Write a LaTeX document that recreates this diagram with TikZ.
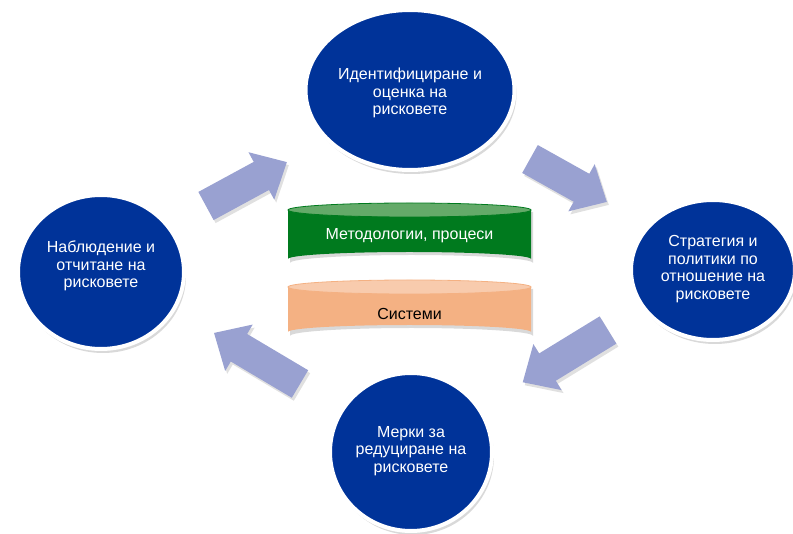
\documentclass[tikz,border=0pt]{standalone}
\usepackage{fontspec}
\setmainfont{Liberation Sans}
\usetikzlibrary{shapes.geometric,shadows}
\definecolor{navy}{RGB}{0,51,153}
\definecolor{arrowblue}{RGB}{153,161,209}
\definecolor{cylgreen}{RGB}{0,122,30}
\definecolor{cyltopgreen}{RGB}{100,170,105}
\definecolor{cylorange}{RGB}{244,177,131}
\definecolor{cyltoporange}{RGB}{248,203,173}
\tikzset{
  circ/.style={ellipse, fill=navy, draw=white, line width=4pt, inner sep=0pt,
    drop shadow={shadow xshift=2pt, shadow yshift=-4pt, opacity=0.25, fill=black!60}},
  ctext/.style={text=white, align=center, font=\fontsize{16}{17.5}\selectfont, inner sep=0pt},
  cyltext/.style={align=center, font=\fontsize{16}{17.5}\selectfont, inner sep=0pt},
  barrow/.style={fill=arrowblue,
    drop shadow={shadow xshift=2pt, shadow yshift=-3pt, opacity=0.2, fill=black!60}},
}
\newcommand{\blockarrow}[4]{%
  \begin{scope}[shift={(#1,#2)}, rotate=#3]
    \path[barrow] (0,-16) -- ({#4-29},-16) -- ({#4-29},-27) -- (#4,0)
      -- ({#4-29},27) -- ({#4-29},16) -- (0,16) -- cycle;
  \end{scope}}
\begin{document}
\begin{tikzpicture}[x=1pt,y=-1pt]
\useasboundingbox (0,0) rectangle (793,534);
\clip (0,0) rectangle (793,534);

% block arrows
\blockarrow{206}{206}{28.5}{92}
\blockarrow{530}{159}{-29.2}{88}
\blockarrow{608}{330}{211.5}{100}
\blockarrow{300}{384}{149.3}{100}

% circles
\node[circ, minimum width=209pt, minimum height=160pt] (c1) at (410,90) {};
\node[ctext] (t1) at (410,93) {Идентифициране и\\оценка на\\рисковете};

\node[circ, minimum width=164pt, minimum height=140pt] (c2) at (713,270) {};
\node[ctext] (t2) at (713,269) {Стратегия и\\политики по\\отношение на\\рисковете};

\node[circ, minimum width=162pt, minimum height=158pt] (c3) at (411,452) {};
\node[ctext] (t3) at (411,451) {Мерки за\\редуциране на\\рисковете};

\node[circ, minimum width=166pt, minimum height=154pt] (c4) at (101,272) {};
\node[ctext] (t4) at (101,266) {Наблюдение и\\отчитане на\\рисковете};

% green cylinder
\fill[black, opacity=0.15] (290,212) -- (290,263) arc[start angle=180, end angle=360, x radius=121.5, y radius=8] -- (533,212) -- cycle;
\fill[cylgreen] (288,210) -- (288,259) arc[start angle=180, end angle=360, x radius=121.5, y radius=7] -- (531,210) -- cycle;
\fill[cyltopgreen, draw=cylgreen, line width=0.8pt] (409.5,210) ellipse[x radius=121.5, y radius=7];
\node[cyltext, text=white] (m1) at (409.5,236) {Методологии, процеси};

% orange cylinder
\fill[black, opacity=0.15] (290,289) -- (290,336) arc[start angle=180, end angle=360, x radius=121.5, y radius=8] -- (533,289) -- cycle;
\fill[cylorange] (288,287) -- (288,332) arc[start angle=180, end angle=360, x radius=121.5, y radius=7] -- (531,287) -- cycle;
\fill[cyltoporange, draw=cylorange, line width=0.8pt] (409.5,287) ellipse[x radius=121.5, y radius=7];
\node[cyltext, text=black] (m2) at (409.5,314) {Системи};
\end{tikzpicture}
\end{document}
